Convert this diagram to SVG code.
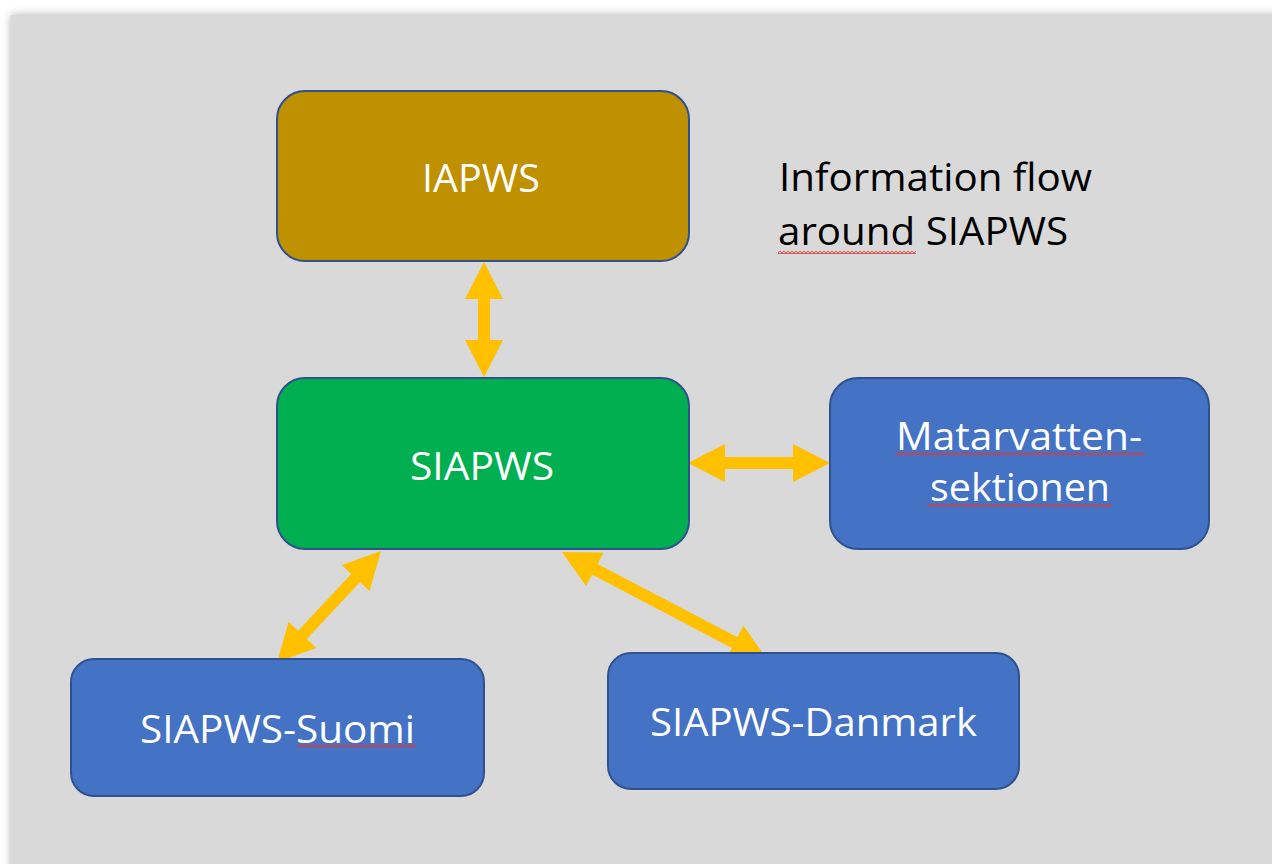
<svg xmlns="http://www.w3.org/2000/svg" width="1272" height="864" viewBox="0 0 1272 864">
<defs>
<style>
.node{stroke:#2F528F;stroke-width:2}
.lbl{font-family:"Open Sans","Noto Sans",sans-serif;font-size:39px;fill:#FFFFFF;text-anchor:middle}
.title{font-family:"Open Sans","Noto Sans",sans-serif;font-size:39px;fill:#000000}
.arrow{fill:#FFC000}
.sq{fill:url(#squiggle)}
</style>
<filter id="shadow" x="-5%" y="-5%" width="110%" height="110%">
<feDropShadow dx="0" dy="0" stdDeviation="4" flood-color="#777777" flood-opacity="0.6"/>
</filter>
<pattern id="squiggle" patternUnits="userSpaceOnUse" width="4" height="3">
<path d="M0,2.5 L2,0.5 L4,2.5" fill="none" stroke="#E03838" stroke-width="1.2"/>
</pattern>
</defs>
<rect x="0" y="0" width="1272" height="864" fill="#FFFFFF"/>
<rect x="11" y="15" width="1275" height="865" fill="#D9D9D9" filter="url(#shadow)"/>

<g id="connectors">
<polygon class="arrow" transform="translate(484,262) rotate(90)" points="0,0 37,-19 37,-6 78,-6 78,-19 115,0 78,19 78,6 37,6 37,19"/>
<polygon class="arrow" transform="translate(688,463)" points="0,0 37,-19 37,-6 105,-6 105,-19 142,0 105,19 105,6 37,6 37,19"/>
<polygon class="arrow" transform="translate(381,551) rotate(133.1)" points="0,0 37,-19 37,-6 115,-6 115,-19 152,0 115,19 115,6 37,6 37,19"/>
<polygon class="arrow" transform="translate(562,552) rotate(27.7)" points="0,0 37,-19 37,-6 195,-6 195,-19 232,0 195,19 195,6 37,6 37,19"/>
</g>

<g id="iapws">
<rect class="node" x="277" y="91" width="412" height="170" rx="28" fill="#BF9000"/>
<text class="lbl" x="481" y="192" textLength="118" lengthAdjust="spacingAndGlyphs">IAPWS</text>
</g>

<g id="siapws">
<rect class="node" x="277" y="378" width="412" height="171" rx="28" fill="#00B050"/>
<text class="lbl" x="482" y="480" textLength="144" lengthAdjust="spacingAndGlyphs">SIAPWS</text>
</g>

<g id="matarvatten">
<rect class="node" x="830" y="378" width="379" height="171" rx="28" fill="#4472C4"/>
<text class="lbl" x="1019" y="450" textLength="246" lengthAdjust="spacingAndGlyphs">Matarvatten-</text>
<text class="lbl" x="1020" y="501" textLength="180" lengthAdjust="spacingAndGlyphs">sektionen</text>
<rect class="sq" x="895" y="452" width="250" height="3"/>
<rect class="sq" x="927" y="504" width="185" height="3"/>
</g>

<g id="suomi">
<rect class="node" x="71" y="659" width="413" height="137" rx="23" fill="#4472C4"/>
<text class="lbl" x="277.5" y="743" textLength="275" lengthAdjust="spacingAndGlyphs">SIAPWS-Suomi</text>
<rect class="sq" x="297" y="745" width="119" height="3"/>
</g>

<g id="danmark">
<rect class="node" x="608" y="653" width="411" height="136" rx="23" fill="#4472C4"/>
<text class="lbl" x="813.5" y="736" textLength="327" lengthAdjust="spacingAndGlyphs">SIAPWS-Danmark</text>
</g>

<g id="title">
<text class="title" x="779" y="191" textLength="313" lengthAdjust="spacingAndGlyphs">Information flow</text>
<text class="title" x="778" y="245" textLength="290" lengthAdjust="spacingAndGlyphs">around SIAPWS</text>
<rect class="sq" x="778" y="251" width="138" height="3"/>
</g>
</svg>
